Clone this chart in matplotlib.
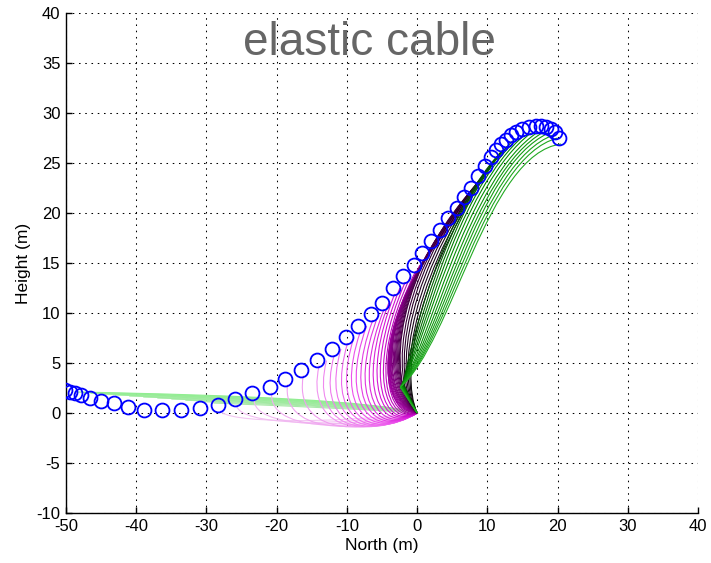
import numpy as np
import matplotlib
matplotlib.use("Agg")
import matplotlib.pyplot as plt
from matplotlib.path import Path
from matplotlib.patches import PathPatch
from matplotlib.colors import LinearSegmentedColormap

plt.rcParams['font.family'] = ['Liberation Sans', 'DejaVu Sans']
plt.rcParams['axes.unicode_minus'] = False

# kite positions (m)
kite_north = [-50.1, -49.4, -48.7, -47.9, -46.6, -45.0, -43.1, -41.2, -38.9, -36.3,
              -33.6, -30.9, -28.3, -26.0, -23.5, -21.0, -18.75, -16.5, -14.25, -12.1,
              -10.2, -8.4, -6.6, -5.0, -3.5, -2.0, -0.5, 0.75, 2.0, 3.3,
              4.45, 5.7, 6.7, 7.6, 8.7, 9.7, 10.5, 11.2, 11.9, 12.6,
              13.3, 14.1, 15.0, 15.9, 16.9, 17.7, 18.4, 19.1, 19.7, 20.2]
kite_height = [2.27, 2.13, 2.03, 1.77, 1.47, 1.2, 0.97, 0.6, 0.33, 0.33,
               0.33, 0.5, 0.85, 1.4, 2.0, 2.65, 3.45, 4.35, 5.35, 6.4,
               7.6, 8.7, 9.9, 11.0, 12.5, 13.7, 14.8, 16.0, 17.2, 18.3,
               19.5, 20.5, 21.6, 22.5, 23.7, 24.7, 25.6, 26.3, 26.9, 27.3,
               27.8, 28.1, 28.4, 28.6, 28.7, 28.7, 28.6, 28.4, 28.1, 27.5]

# cable shapes, winch at the origin: upper end of each cable
tip_north = [-48.5, -47.5, -46.5, -45.0, -43.0, -41.0, -39.0, -37.0, -35.0, -33.0, -31.0, -29.0,
             -28.0, -25.7, -23.2, -20.7, -18.45, -16.2,
             -13.95, -12.9, -11.8, -10.85, -9.9, -9.0, -8.1, -7.2, -6.3, -5.5,
             -4.7, -3.95, -3.2, -2.45, -1.7, -0.95, -0.2, 0.4,
             1.05, 1.7, 2.3, 2.95, 3.6, 4.2, 4.75, 5.4, 6.0, 6.5, 7.0,
             7.45, 7.9, 8.45, 9.0, 9.5, 10.0, 10.4, 10.8, 11.15, 11.5, 11.85,
             12.2, 12.9, 13.6, 14.4, 15.3, 16.2, 17.2, 18.0, 18.7, 19.4, 20.0, 20.5]
tip_height = [2.1, 2.05, 1.98, 1.9, 1.8, 1.7, 1.6, 1.5, 1.4, 1.28, 1.15, 1.0,
              0.25, 0.8, 1.4, 2.05, 2.85, 3.75,
              4.75, 5.25, 5.8, 6.4, 7.0, 7.55, 8.1, 8.7, 9.3, 9.85,
              10.4, 11.15, 11.9, 12.5, 13.1, 13.65, 14.2, 14.8,
              15.4, 16.0, 16.6, 17.15, 17.7, 18.3, 18.9, 19.4, 19.9, 20.45, 21.0,
              21.45, 21.9, 22.5, 23.1, 23.6, 24.1, 24.55, 25.0, 25.35, 25.7, 26.0,
              26.3, 26.7, 27.2, 27.5, 27.8, 28.0, 28.1, 28.1, 28.0, 27.8, 27.5, 26.9]

# bezier handles: c1 on the winch side, c2 on the kite side
c1_north = [-6, -6, -6, -6, -6, -6, -6, -6, -6, -6, -6, -6,
            -12, -11, -10.5, -10, -9.5, -9,
            -8.5, -8.2, -8.0, -7.7, -7.4, -7.1, -6.8, -6.5, -6.2, -5.9,
            -5.6, -5.3, -5.0, -4.8, -4.6, -4.5, -4.4, -4.4,
            -5.0, -5.1, -5.2, -5.3, -5.4, -5.5, -5.5, -5.5, -5.4, -5.3, -5.2,
            -5.1, -5.0, -4.9, -4.8, -4.8, -4.4, -4.0, -3.6, -3.2, -2.8, -2.5,
            -0.8, -0.3, 0.2, 0.7, 1.2, 1.8, 2.4, 3.0, 3.5, 4.0, 4.5, 5.0]
c1_height = [1.2, 1.12, 1.05, 0.98, 0.9, 0.82, 0.74, 0.66, 0.58, 0.5, 0.42, 0.32,
             -1.1, -1.4, -1.7, -2.0, -2.3, -2.6,
             -2.8, -2.9, -3.0, -3.0, -3.0, -3.0, -2.9, -2.8, -2.7, -2.6,
             -2.4, -2.2, -2.0, -1.8, -1.5, -1.2, -0.9, -0.6,
             0.0, 0.3, 0.6, 0.9, 1.2, 1.4, 1.6, 1.8, 2.0, 2.2, 2.4,
             2.6, 2.8, 3.0, 3.1, 3.2, 3.4, 3.6, 3.8, 3.9, 4.0, 4.0,
             7.0, 7.0, 7.0, 7.0, 7.0, 7.0, 7.0, 7.0, 7.0, 7.0, 7.0, 7.0]
c2_north = [-25, -25, -24, -23, -22, -21, -20, -19, -18, -17, -16, -15,
            -27.5, -25.5, -23.5, -21.3, -19.3, -17.6,
            -15.9, -15.2, -14.4, -13.7, -13.0, -12.4, -11.8, -11.2, -10.6, -10.0,
            -9.4, -8.8, -8.2, -7.7, -7.2, -6.8, -6.4, -6.1,
            -6.5, -6.4, -6.3, -6.1, -5.9, -5.7, -5.5, -5.3, -5.0, -4.7, -4.4,
            -4.1, -3.8, -3.5, -3.2, -2.9, -2.4, -1.9, -1.4, -0.9, -0.4, 0.0,
            3.5, 4.1, 4.7, 5.3, 5.9, 6.5, 7.1, 7.7, 8.3, 8.9, 9.5, 10.0]
c2_height = [1.8, 1.72, 1.64, 1.56, 1.46, 1.36, 1.25, 1.14, 1.02, 0.9, 0.76, 0.6,
             -1.0, -1.3, -1.5, -1.7, -1.8, -1.7,
             -1.4, -1.2, -0.9, -0.6, -0.3, 0.1, 0.5, 0.9, 1.3, 1.7,
             2.1, 2.6, 3.1, 3.6, 4.2, 4.8, 5.4, 6.0,
             7.0, 7.5, 8.0, 8.6, 9.2, 9.8, 10.4, 11.0, 11.6, 12.1, 12.6,
             13.1, 13.6, 14.0, 14.4, 14.8, 15.0, 15.0, 14.8, 14.6, 14.4, 14.2,
             20.0, 20.6, 21.2, 21.8, 22.3, 22.8, 23.4, 24.0, 24.6, 25.1, 25.6, 26.0]

# the last cables bend sharply just above the winch
first_kinked = 58
kink_north = [-2.0, -2.05, -2.1, -2.15, -2.2, -2.2,
              -2.25, -2.3, -2.3, -2.35, -2.4, -2.4]
kink_height = [3.0, 2.95, 2.9, 2.85, 2.8, 2.75,
               2.7, 2.7, 2.65, 2.6, 2.6, 2.6]

cable_cmap = LinearSegmentedColormap.from_list('cable', [
    (0.00, '#90ee90'), (0.16, '#a8e8a8'), (0.172, '#f2c6f2'),
    (0.25, '#f09cf0'), (0.35, '#ec50ec'), (0.45, '#d010d0'),
    (0.52, '#a000a0'), (0.62, '#800080'), (0.72, '#500050'),
    (0.78, '#200020'), (0.83, '#101010'), (0.845, '#005500'),
    (0.90, '#008800'), (1.00, '#22aa22')])

fig = plt.figure(figsize=(7.11, 5.63), dpi=100)
ax = fig.add_axes([0.0928, 0.0888, 0.889, 0.888])

n = len(tip_north)
colors = cable_cmap(np.linspace(0, 1, n))
for i in range(n):
    verts = [(0.0, 0.0)]
    codes = [Path.MOVETO]
    if i >= first_kinked:
        k = i - first_kinked
        verts.append((kink_north[k], kink_height[k]))
        codes.append(Path.LINETO)
    verts += [(c1_north[i], c1_height[i]), (c2_north[i], c2_height[i]),
              (tip_north[i], tip_height[i])]
    codes += [Path.CURVE4] * 3
    ax.add_patch(PathPatch(Path(verts, codes), facecolor='none',
                           edgecolor=colors[i], lw=0.8, zorder=2))

ax.plot(kite_north, kite_height, 'o', ls='none', mfc='none', mec='#0000ff',
        ms=10, mew=1.3, zorder=3)

ax.text(-6.8, 37, 'elastic cable', fontsize=33, color='#666666',
        ha='center', va='center', zorder=4)

ax.set_xlim(-50, 40)
ax.set_ylim(-10, 40)
ax.set_xticks(np.arange(-50, 41, 10))
ax.set_yticks(np.arange(-10, 41, 5))
ax.grid(True, color='black', lw=0.75, ls=(0, (1.5, 4.5)))
ax.set_axisbelow(True)
for side in ['top', 'right']:
    ax.spines[side].set_visible(False)
for side in ['left', 'bottom']:
    ax.spines[side].set_linewidth(1.0)
ax.tick_params(direction='in', length=4.3, width=1.0, labelsize=12, pad=4)
ax.set_xlabel('North (m)', fontsize=12.5, labelpad=3)
ax.set_ylabel('Height (m)', fontsize=12.5, labelpad=4)

fig.savefig('out.png', dpi=100)
